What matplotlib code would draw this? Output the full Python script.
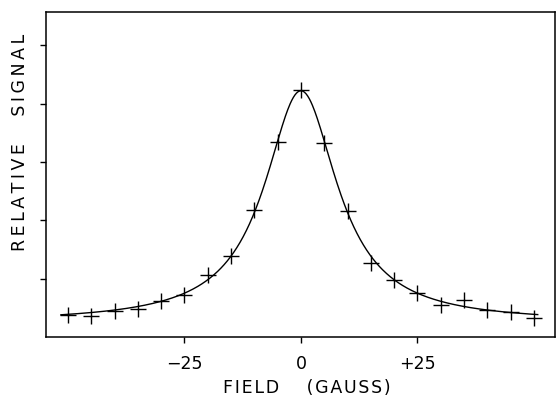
import numpy as np
import matplotlib
matplotlib.use("Agg")
import matplotlib.pyplot as plt

# Measured points (field in gauss, relative signal)
field = [-50, -45, -40, -35, -30, -25, -20, -15, -10, -5, 0,
         5, 10, 15, 20, 25, 30, 35, 40, 45, 50]
signal = [0.37, 0.36, 0.45, 0.48, 0.62, 0.72, 1.06, 1.39, 2.18, 3.34, 4.23,
          3.33, 2.16, 1.27, 0.98, 0.75, 0.55, 0.63, 0.47, 0.42, 0.32]

# Fitted Lorentzian line drawn through the points (parameters)
fit_peak = 4.22
fit_halfwidth = 9.5
fit_baseline = 0.25
fit_range = (-51.5, 50.8)

xticks = [-25, 0, 25]
xticklabels = ["\u221225", "0", "+25"]
yticks = [1, 2, 3, 4, 5]

THIN = "\u2009"
HAIR = "\u200a"
xlabel = HAIR.join("FIELD") + " " * 5 + HAIR.join("(GAUSS)")
ylabel = THIN.join("RELATIVE") + " " * 5 + THIN.join("SIGNAL")

W, H = 556, 396
fig = plt.figure(figsize=(W / 100, H / 100), dpi=100)
ax = fig.add_axes([46 / W, 1 - 337 / H, (554.5 - 46) / W, (337 - 12) / H])

xf = np.linspace(fit_range[0], fit_range[1], 600)
yf = fit_baseline + (fit_peak - fit_baseline) / (1 + (xf / fit_halfwidth) ** 2)
ax.plot(xf, yf, color="black", lw=1.0)
ax.plot(field, signal, linestyle="none", marker="+", markersize=12,
        markeredgewidth=1.0, color="black")

ax.set_xlim(-54.7, 54.4)
ax.set_ylim(0, 5.57)
ax.set_xticks(xticks)
ax.set_xticklabels(xticklabels)
ax.set_yticks(yticks)
ax.set_yticklabels([])
ax.tick_params(direction="out", length=4, width=1.0, pad=9, labelsize=12.5)
for s in ax.spines.values():
    s.set_linewidth(1.1)

fig.text(307 / W, 1 - 388 / H, xlabel,
         ha="center", va="center", fontsize=12.5)
fig.text(20 / W, 1 - 142 / H, ylabel,
         ha="center", va="center", rotation=90, fontsize=12.5)

fig.savefig("out.png", dpi=100)
